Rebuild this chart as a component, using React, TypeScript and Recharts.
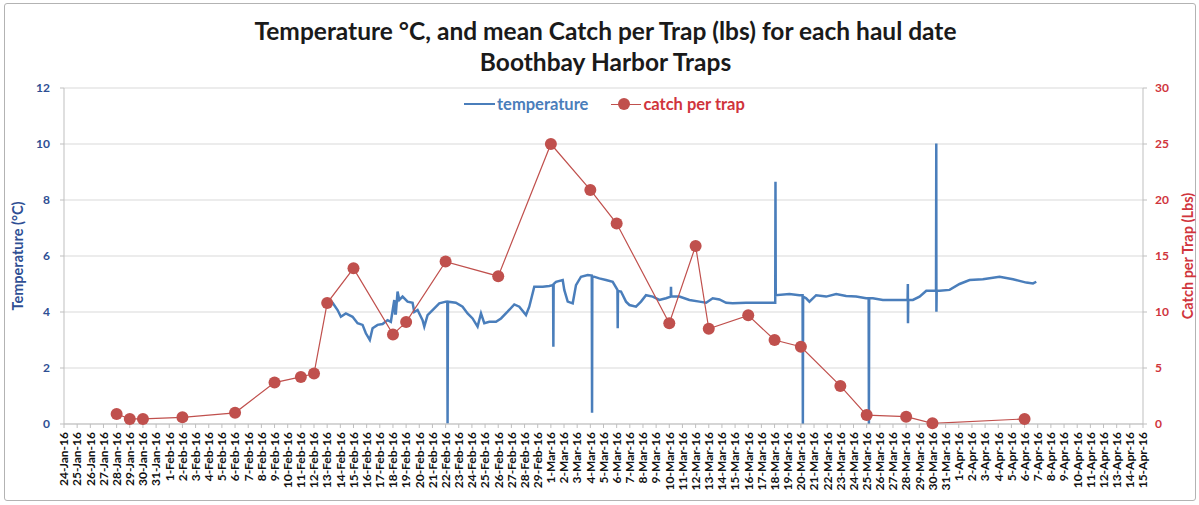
import React from "react";
import { ComposedChart, Line, XAxis, YAxis, CartesianGrid } from "recharts";

// daily category labels on the x axis, 24-Jan-16 .. 15-Apr-16
const dateLabels = [
  "24-Jan-16", "25-Jan-16", "26-Jan-16", "27-Jan-16", "28-Jan-16", "29-Jan-16", "30-Jan-16", "31-Jan-16",
  "1-Feb-16", "2-Feb-16", "3-Feb-16", "4-Feb-16", "5-Feb-16", "6-Feb-16", "7-Feb-16", "8-Feb-16",
  "9-Feb-16", "10-Feb-16", "11-Feb-16", "12-Feb-16", "13-Feb-16", "14-Feb-16", "15-Feb-16", "16-Feb-16",
  "17-Feb-16", "18-Feb-16", "19-Feb-16", "20-Feb-16", "21-Feb-16", "22-Feb-16", "23-Feb-16", "24-Feb-16",
  "25-Feb-16", "26-Feb-16", "27-Feb-16", "28-Feb-16", "29-Feb-16",
  "1-Mar-16", "2-Mar-16", "3-Mar-16", "4-Mar-16", "5-Mar-16", "6-Mar-16", "7-Mar-16", "8-Mar-16",
  "9-Mar-16", "10-Mar-16", "11-Mar-16", "12-Mar-16", "13-Mar-16", "14-Mar-16", "15-Mar-16", "16-Mar-16",
  "17-Mar-16", "18-Mar-16", "19-Mar-16", "20-Mar-16", "21-Mar-16", "22-Mar-16", "23-Mar-16", "24-Mar-16",
  "25-Mar-16", "26-Mar-16", "27-Mar-16", "28-Mar-16", "29-Mar-16", "30-Mar-16", "31-Mar-16",
  "1-Apr-16", "2-Apr-16", "3-Apr-16", "4-Apr-16", "5-Apr-16", "6-Apr-16", "7-Apr-16", "8-Apr-16",
  "9-Apr-16", "10-Apr-16", "11-Apr-16", "12-Apr-16", "13-Apr-16", "14-Apr-16", "15-Apr-16",
];

// haul dates and mean catch per trap (lbs)
const catchDates = [
  "28-Jan-16", "29-Jan-16", "30-Jan-16", "2-Feb-16", "6-Feb-16", "9-Feb-16", "11-Feb-16", "12-Feb-16",
  "13-Feb-16", "15-Feb-16", "18-Feb-16", "19-Feb-16", "22-Feb-16", "26-Feb-16", "1-Mar-16", "4-Mar-16",
  "6-Mar-16", "10-Mar-16", "12-Mar-16", "13-Mar-16", "16-Mar-16", "18-Mar-16", "20-Mar-16", "23-Mar-16",
  "25-Mar-16", "28-Mar-16", "30-Mar-16", "6-Apr-16",
];
const catchValues = [
  0.9, 0.45, 0.45, 0.6, 1.0, 3.7, 4.2, 4.5,
  10.8, 13.9, 8.0, 9.1, 14.5, 13.2, 25.0, 20.9,
  17.9, 9.0, 15.9, 8.5, 9.7, 7.5, 6.9, 3.4,
  0.8, 0.65, 0.06, 0.45,
];

// logger readings: days since 24-Jan-16, temperature °C
const tempDays = [
  20.03, 20.41, 20.79, 21.04, 21.42, 21.93, 22.31, 22.69, 22.94, 23.24, 23.45, 23.83, 24.21, 24.59, 24.84,
  25.1, 25.16, 25.22, 25.35, 25.48, 25.73, 26.11, 26.49, 26.62, 26.87, 27.25, 27.38, 27.63, 28.01, 28.52,
  29.02, 29.13, 29.15, 29.18, 29.78, 30.29, 30.67, 31.05, 31.43, 31.69, 31.94, 32.32, 32.83, 33.21, 33.71,
  34.22, 34.6, 35.11, 35.36, 35.74, 36.38, 36.88, 37.17, 37.19, 37.21, 37.39, 37.9, 38.02, 38.28, 38.66,
  38.91, 39.29, 39.8, 40.11, 40.13, 40.15, 40.68, 41.19, 41.7, 42.06, 42.08, 42.1, 42.33, 42.71, 42.97,
  43.47, 43.85, 44.23, 44.74, 45.25, 45.75, 46.11, 46.13, 46.15, 46.77, 47.53, 48.29, 48.8, 49.3, 49.81,
  50.32, 50.82, 51.84, 52.85, 54.05, 54.07, 54.09, 55.13, 55.89, 56.13, 56.15, 56.17, 56.4, 56.65, 57.16,
  57.92, 58.68, 59.44, 60.2, 60.96, 61.15, 61.17, 61.19, 61.47, 62.23, 62.99, 63.75, 64.11, 64.13, 64.14,
  64.16, 64.51, 65.02, 65.53, 66.03, 66.27, 66.29, 66.3, 66.32, 66.54, 67.3, 68.06, 68.82, 69.83, 71.1,
  72.12, 73.13, 73.64, 73.89,
];
const tempValues = [
  4.43, 4.33, 4.07, 3.83, 3.95, 3.83, 3.6, 3.54, 3.24, 3.0, 3.42, 3.54, 3.57, 3.71, 3.65,
  4.43, 3.95, 3.95, 4.73, 4.43, 4.55, 4.37, 4.33, 4.0, 4.07, 3.71, 3.48, 3.89, 4.07, 4.31,
  4.37, 4.37, 0.02, 4.37, 4.33, 4.19, 3.95, 3.77, 3.48, 3.95, 3.6, 3.65, 3.65, 3.77, 4.01,
  4.27, 4.19, 3.89, 4.19, 4.9, 4.9, 4.93, 4.96, 2.76, 5.0, 5.08, 5.14, 4.79, 4.37, 4.31,
  4.96, 5.26, 5.32, 5.3, 0.4, 5.28, 5.2, 5.14, 5.08, 4.79, 3.42, 4.75, 4.73, 4.37, 4.25,
  4.19, 4.37, 4.6, 4.55, 4.43, 4.49, 4.55, 4.9, 4.55, 4.55, 4.43, 4.37, 4.33, 4.49, 4.45,
  4.33, 4.31, 4.33, 4.33, 4.33, 8.65, 4.6, 4.64, 4.6, 4.6, 0.0, 4.55, 4.49, 4.37, 4.6,
  4.55, 4.64, 4.57, 4.55, 4.49, 4.49, 0.0, 4.49, 4.49, 4.43, 4.43, 4.43, 4.43, 5.0, 3.6,
  4.43, 4.43, 4.55, 4.76, 4.76, 4.76, 10.02, 4.01, 4.76, 4.76, 4.79, 5.0, 5.14, 5.17, 5.26,
  5.17, 5.05, 5.02, 5.08,
];

const tempTicks = [0, 2, 4, 6, 8, 10, 12];
const catchTicks = [0, 5, 10, 15, 20, 25, 30];

const TEMP_COLOR = "#4a7ebb";
const CATCH_COLOR = "#c0504d";
const BLUE_TEXT = "#2f4f94";
const RED_TEXT = "#d0343c";
const AXIS_GRAY = "#bfbfbf";
const FONT = "Lato, 'Liberation Sans', sans-serif";

const tempData = tempDays.map((d, i) => ({ day: d, temp: tempValues[i] }));
const catchData = catchDates.map((d, i) => ({ day: dateLabels.indexOf(d), catch: catchValues[i] }));
const dayTicks = dateLabels.map((_, i) => i);

const renderDateTick = (props: any) => {
  const { x, y, payload } = props;
  return (
    <text
      x={x}
      y={y}
      transform={`rotate(-90 ${x} ${y})`}
      textAnchor="end"
      dy="0.36em"
      fill="#111"
      fontSize={12}
      fontWeight={700}
      fontFamily={FONT}
    >
      {dateLabels[payload.value]}
    </text>
  );
};

const App: React.FC = () => (
  <div style={{ position: "absolute", left: 0, top: 0, width: 1199, height: 505, background: "#fff", fontFamily: FONT }}>
    <div
      style={{
        position: "absolute",
        left: 4,
        top: 3,
        width: 1190,
        height: 496,
        border: "1.5px solid #b3b3b3",
        borderRadius: 3,
      }}
    />
    <div
      style={{
        position: "absolute",
        left: 6,
        top: 15,
        width: 1199,
        textAlign: "center",
        fontSize: 24.5,
        fontWeight: 700,
        lineHeight: "31px",
        color: "#1a1a1a",
      }}
    >
      Temperature °C, and mean Catch per Trap (lbs) for each haul date
      <br />
      Boothbay Harbor Traps
    </div>

    <ComposedChart width={1199} height={505} margin={{ top: 88, right: 12, bottom: 11, left: 28 }}>
      <CartesianGrid yAxisId="t" vertical={false} stroke="#d9d9d9" strokeWidth={1.2} />
      <XAxis
        type="number"
        dataKey="day"
        domain={[0, 82]}
        ticks={dayTicks}
        interval={0}
        allowDataOverflow
        height={70}
        tickSize={4}
        tickMargin={4}
        axisLine={{ stroke: AXIS_GRAY }}
        tickLine={{ stroke: AXIS_GRAY }}
        tick={renderDateTick}
      />
      <YAxis
        yAxisId="t"
        domain={[0, 12]}
        ticks={tempTicks}
        width={36}
        tickSize={4}
        tickMargin={10}
        axisLine={{ stroke: AXIS_GRAY }}
        tickLine={{ stroke: AXIS_GRAY }}
        tick={{ fill: BLUE_TEXT, fontSize: 12, fontWeight: 700, fontFamily: FONT }}
      />
      <YAxis
        yAxisId="c"
        orientation="right"
        domain={[0, 30]}
        ticks={catchTicks}
        width={44}
        tickSize={4}
        tickMargin={8}
        axisLine={{ stroke: AXIS_GRAY }}
        tickLine={{ stroke: AXIS_GRAY }}
        tick={{ fill: RED_TEXT, fontSize: 12, fontWeight: 700, fontFamily: FONT, textAnchor: "start" }}
      />
      <Line
        yAxisId="t"
        data={tempData}
        dataKey="temp"
        type="linear"
        stroke={TEMP_COLOR}
        strokeWidth={2.5}
        dot={false}
        isAnimationActive={false}
      />
      <Line
        yAxisId="c"
        data={catchData}
        dataKey="catch"
        type="linear"
        stroke={CATCH_COLOR}
        strokeWidth={1.2}
        dot={{ r: 6, fill: CATCH_COLOR, stroke: CATCH_COLOR, strokeWidth: 0 }}
        isAnimationActive={false}
      />
    </ComposedChart>

    {/* legend, inside the top of the plot */}
    <div
      style={{
        position: "absolute",
        left: 464,
        top: 94,
        display: "flex",
        alignItems: "center",
        fontSize: 16.5,
        fontWeight: 700,
        whiteSpace: "nowrap",
      }}
    >
      <span style={{ display: "inline-block", width: 31, height: 2.5, background: TEMP_COLOR, marginRight: 2 }} />
      <span style={{ color: TEMP_COLOR }}>temperature</span>
      <span style={{ position: "relative", display: "inline-block", width: 30, height: 12, marginLeft: 23, marginRight: 2 }}>
        <span style={{ position: "absolute", left: 0, right: 0, top: 5.5, height: 1.2, background: CATCH_COLOR }} />
        <span
          style={{ position: "absolute", left: 7, top: 0, width: 12, height: 12, borderRadius: 6, background: CATCH_COLOR }}
        />
      </span>
      <span style={{ color: RED_TEXT }}>catch per trap</span>
    </div>

    {/* axis titles */}
    <div
      style={{
        position: "absolute",
        left: 17,
        top: 256,
        transform: "translate(-50%, -50%) rotate(-90deg)",
        whiteSpace: "nowrap",
        fontSize: 14.5,
        fontWeight: 700,
        color: BLUE_TEXT,
      }}
    >
      Temperature (°C)
    </div>
    <div
      style={{
        position: "absolute",
        left: 1187,
        top: 256,
        transform: "translate(-50%, -50%) rotate(-90deg)",
        whiteSpace: "nowrap",
        fontSize: 14.5,
        fontWeight: 700,
        color: RED_TEXT,
      }}
    >
      Catch per Trap (Lbs)
    </div>
  </div>
);

export default App;
